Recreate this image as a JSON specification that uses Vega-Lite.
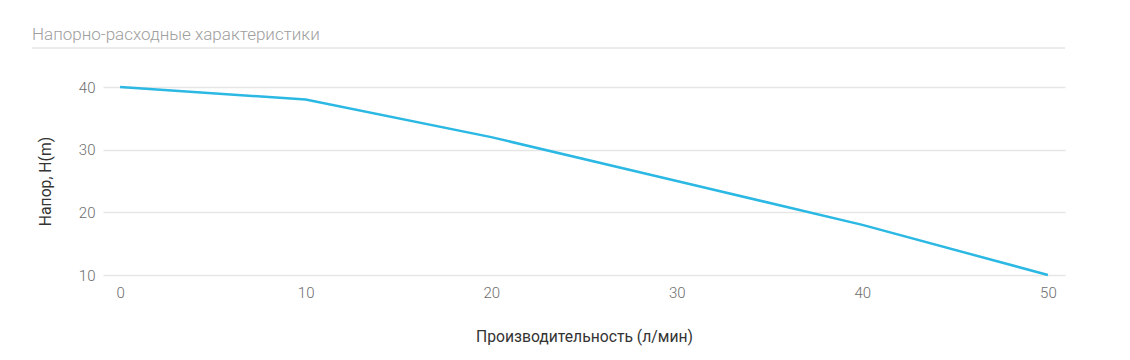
{
  "$schema": "https://vega.github.io/schema/vega-lite/v6.json",
  "autosize": "none",
  "width": 962,
  "height": 188,
  "padding": {"left": 103, "top": 87, "right": 65, "bottom": 85},
  "background": "white",
  "config": {
    "view": {"stroke": null},
    "font": "Roboto"
  },
  "title": {
    "text": "Напорно-расходные характеристики",
    "anchor": "start",
    "frame": "group",
    "orient": "top",
    "dx": -71,
    "offset": 4,
    "font": "Roboto",
    "fontSize": 17,
    "fontWeight": 300,
    "color": "#9e9e9e"
  },
  "data": {
    "values": [
      {"q": 0, "h": 40},
      {"q": 10, "h": 38},
      {"q": 20, "h": 32},
      {"q": 30, "h": 25},
      {"q": 40, "h": 18},
      {"q": 50, "h": 10}
    ]
  },
  "layer": [
    {
      "mark": {"type": "rule", "color": "#ebebeb", "strokeWidth": 1, "clip": false},
      "encoding": {
        "x": {"datum": -4.74, "type": "quantitative"},
        "x2": {"datum": 50.92},
        "y": {"datum": 46.2, "type": "quantitative"}
      }
    },
    {
      "mark": {"type": "line", "color": "#2bb8e3", "strokeWidth": 2.5},
      "encoding": {
        "x": {
          "field": "q",
          "type": "quantitative",
          "scale": {"domain": [-0.92, 50.92], "nice": false, "zero": false},
          "axis": {
            "values": [0, 10, 20, 30, 40, 50],
            "title": "Производительность (л/мин)",
            "titleFont": "Roboto",
            "titleFontSize": 15.7,
            "titleFontWeight": "normal",
            "titleColor": "#333333",
            "titlePadding": 29,
            "labelFont": "Roboto",
            "labelFontSize": 15,
            "labelFontWeight": 300,
            "labelColor": "#6e6e6e",
            "labelPadding": 10,
            "domain": false,
            "ticks": false,
            "grid": false
          }
        },
        "y": {
          "field": "h",
          "type": "quantitative",
          "scale": {"domain": [10, 40], "nice": false, "zero": false},
          "axis": {
            "values": [10, 20, 30, 40],
            "title": "Напор, H(m)",
            "titleFont": "Roboto",
            "titleFontSize": 15.7,
            "titleFontWeight": "normal",
            "titleColor": "#333333",
            "titlePadding": 25,
            "labelFont": "Roboto",
            "labelFontSize": 15,
            "labelFontWeight": 300,
            "labelColor": "#6e6e6e",
            "labelPadding": 8,
            "domain": false,
            "ticks": false,
            "grid": true,
            "gridColor": "#e6e6e6",
            "gridWidth": 1.5
          }
        }
      }
    }
  ]
}
